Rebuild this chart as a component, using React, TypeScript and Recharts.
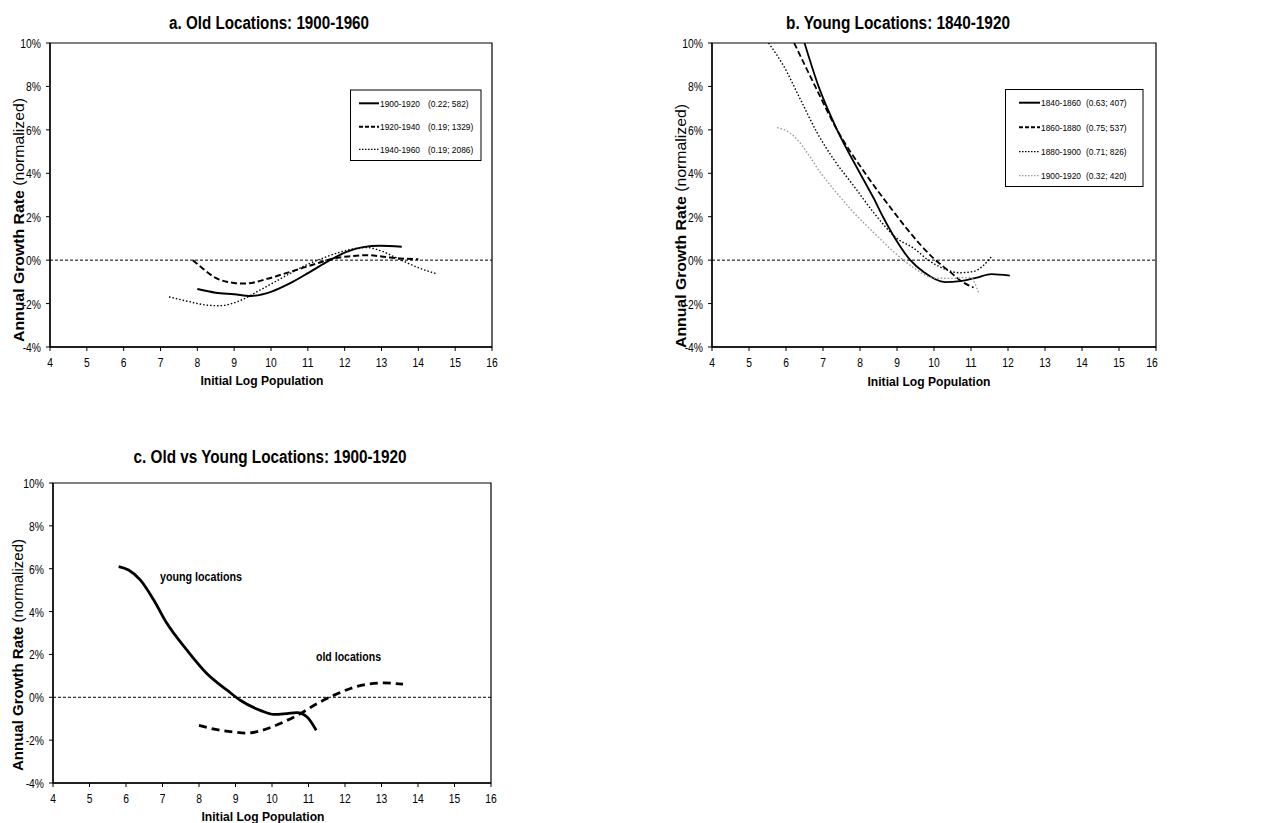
import React from "react";
import {
  LineChart,
  Line,
  XAxis,
  YAxis,
  ReferenceLine,
  ReferenceArea,
} from "recharts";

// ---------- axes ----------
const xTicks = [4, 5, 6, 7, 8, 9, 10, 11, 12, 13, 14, 15, 16];
const yTicks = [-4, -2, 0, 2, 4, 6, 8, 10];

// ---------- panel a: old locations ----------
const aSolidX = [8.0, 8.5, 9.0, 9.45, 10.0, 10.5, 11.05, 11.6, 12.05, 12.5, 12.95, 13.55];
const aSolidY = [-1.33, -1.5, -1.57, -1.65, -1.46, -1.08, -0.55, 0.0, 0.38, 0.6, 0.66, 0.62];
const aDashX = [7.88, 8.1, 8.5, 9.0, 9.3, 9.9, 10.5, 11.25, 11.7, 12.15, 12.6, 13.05, 13.5, 14.0];
const aDashY = [0.0, -0.32, -0.82, -1.05, -1.08, -0.86, -0.55, -0.15, 0.08, 0.18, 0.23, 0.16, 0.08, 0.04];
const aDotX = [7.23, 7.7, 8.25, 8.6, 9.15, 9.7, 10.35, 10.95, 11.45, 11.9, 12.35, 12.6, 12.95, 13.35, 13.6, 14.05, 14.5];
const aDotY = [-1.69, -1.88, -2.07, -2.1, -1.87, -1.38, -0.77, -0.23, 0.12, 0.38, 0.55, 0.58, 0.45, 0.15, -0.05, -0.38, -0.63];
const aLegend = ["1900-1920", "1920-1940", "1940-1960"];
const aStats = ["(0.22; 582)", "(0.19; 1329)", "(0.19; 2086)"];

// ---------- panel b: young locations ----------
const bSolidX = [6.5, 6.88, 7.38, 8.0, 8.37, 8.62, 8.95, 9.36, 9.72, 10.3, 10.7, 11.16, 11.55, 12.05];
const bSolidY = [10, 8, 6, 4, 2.85, 2, 1.0, 0, -0.55, -1.01, -0.97, -0.8, -0.64, -0.71];
const bDashX = [6.22, 6.79, 7.38, 8.14, 8.9, 9.27, 9.99, 10.44, 10.75, 11.07];
const bDashY = [10, 8, 6, 4, 2.25, 1.44, 0.08, -0.55, -0.98, -1.26];
const bDotX = [5.53, 5.94, 6.39, 6.84, 7.29, 7.83, 8.37, 9.0, 9.45, 9.85, 10.17, 10.7, 11.07, 11.34, 11.57];
const bDotY = [10, 8.93, 7.4, 5.87, 4.64, 3.42, 2.19, 1.0, 0.55, 0.0, -0.32, -0.58, -0.52, -0.24, 0.2];
const bGrayX = [5.76, 6.03, 6.3, 6.57, 6.93, 7.29, 7.83, 8.37, 8.9, 9.45, 10.0, 10.44, 10.98, 11.2];
const bGrayY = [6.1, 5.94, 5.56, 4.95, 4.03, 3.26, 2.19, 1.27, 0.4, -0.35, -0.82, -0.84, -0.8, -1.48];
const bLegend = ["1840-1860", "1860-1880", "1880-1900", "1900-1920"];
const bStats = ["(0.63; 407)", "(0.75; 537)", "(0.71; 826)", "(0.32; 420)"];

// ---------- panel c: old vs young ----------
const cYoungX = [5.8, 6.07, 6.39, 6.76, 7.12, 7.67, 8.22, 8.77, 9.13, 9.68, 10.05, 10.41, 10.68, 10.96, 11.21];
const cYoungY = [6.1, 5.94, 5.48, 4.54, 3.45, 2.2, 1.1, 0.33, -0.14, -0.61, -0.8, -0.76, -0.72, -0.92, -1.54];
const cOldX = [8.0, 8.49, 8.95, 9.32, 9.86, 10.32, 10.78, 11.23, 11.69, 12.15, 12.6, 13.06, 13.59];
const cOldY = [-1.31, -1.51, -1.62, -1.67, -1.47, -1.15, -0.76, -0.3, 0.09, 0.41, 0.61, 0.67, 0.61];

const titles = [
  "a. Old Locations: 1900-1960",
  "b. Young Locations: 1840-1920",
  "c. Old vs Young Locations: 1900-1920",
];

const pts = (xs: number[], ys: number[]) => xs.map((x, i) => ({ x, y: ys[i] }));

const FONT = "'Liberation Sans', Arial, Helvetica, sans-serif";

// approximate natural width (em) of Arial glyphs used in labels
const emWidth = (s: string) =>
  s.split("").reduce((acc, ch) => {
    if (/[0-9]/.test(ch)) return acc + 0.556;
    if (ch === "%") return acc + 0.889;
    if (ch === "-") return acc + 0.333;
    if (ch === "(" || ch === ")") return acc + 0.333;
    if (ch === "." || ch === ";" || ch === " ") return acc + 0.278;
    return acc + 0.556;
  }, 0);

const SQUEEZE = 0.86;

type SeriesSpec = {
  name: string;
  data: { x: number; y: number }[];
  stroke: string;
  width: number;
  dash?: string;
};

const XTick = (props: any) => {
  const { x, y, payload } = props;
  const s = String(payload.value);
  const fs = 12;
  return (
    <text
      x={x}
      y={y + 14}
      textAnchor="middle"
      fontSize={fs}
      fontFamily={FONT}
      fill="#000"
      textLength={emWidth(s) * fs * SQUEEZE}
      lengthAdjust="spacingAndGlyphs"
    >
      {s}
    </text>
  );
};

const YTick = (props: any) => {
  const { x, y, payload } = props;
  const s = payload.value + "%";
  const fs = 12;
  return (
    <text
      x={x - 3}
      y={y + 5}
      textAnchor="end"
      fontSize={fs}
      fontFamily={FONT}
      fill="#000"
      textLength={emWidth(s) * fs * SQUEEZE}
      lengthAdjust="spacingAndGlyphs"
    >
      {s}
    </text>
  );
};

function Panel(props: {
  left: number;
  top: number;
  margin: { top: number; right: number; bottom: number; left: number };
  series: SeriesSpec[];
}) {
  const { left, top, margin, series } = props;
  return (
    <div style={{ position: "absolute", left, top }}>
      <LineChart width={500} height={390} margin={margin}>
        <XAxis
          type="number"
          dataKey="x"
          domain={[4, 16]}
          ticks={xTicks}
          allowDataOverflow
          height={30}
          stroke="#000"
          tickSize={4}
          tick={<XTick />}
          axisLine={{ stroke: "#000", strokeWidth: 1.3 }}
          tickLine={{ stroke: "#000" }}
        />
        <YAxis
          type="number"
          dataKey="y"
          domain={[-4, 10]}
          ticks={yTicks}
          allowDataOverflow
          width={40}
          stroke="#000"
          tickSize={4}
          tick={<YTick />}
          axisLine={{ stroke: "#000", strokeWidth: 1.3 }}
          tickLine={{ stroke: "#000" }}
        />
        <ReferenceArea
          x1={4}
          x2={16}
          y1={-4}
          y2={10}
          fill="none"
          fillOpacity={0}
          stroke="#000"
          strokeWidth={1.2}
          ifOverflow="visible"
        />
        <ReferenceLine y={0} stroke="#000" strokeWidth={1} strokeDasharray="3 2" />
        {series.map((s) => (
          <Line
            key={s.name}
            data={s.data}
            dataKey="y"
            name={s.name}
            type="monotone"
            stroke={s.stroke}
            strokeWidth={s.width}
            strokeDasharray={s.dash}
            dot={false}
            activeDot={false}
            isAnimationActive={false}
          />
        ))}
      </LineChart>
    </div>
  );
}

const aSeries: SeriesSpec[] = [
  { name: aLegend[0], data: pts(aSolidX, aSolidY), stroke: "#000", width: 2 },
  { name: aLegend[1], data: pts(aDashX, aDashY), stroke: "#000", width: 2, dash: "6 3" },
  { name: aLegend[2], data: pts(aDotX, aDotY), stroke: "#000", width: 1.4, dash: "1.5 2" },
];
const bSeries: SeriesSpec[] = [
  { name: bLegend[0], data: pts(bSolidX, bSolidY), stroke: "#000", width: 1.8 },
  { name: bLegend[1], data: pts(bDashX, bDashY), stroke: "#000", width: 1.8, dash: "6 3" },
  { name: bLegend[2], data: pts(bDotX, bDotY), stroke: "#000", width: 1.4, dash: "1.5 2" },
  { name: bLegend[3], data: pts(bGrayX, bGrayY), stroke: "#999", width: 1.4, dash: "1.5 2" },
];
const cSeries: SeriesSpec[] = [
  { name: "young locations", data: pts(cYoungX, cYoungY), stroke: "#000", width: 2.8 },
  { name: "old locations", data: pts(cOldX, cOldY), stroke: "#000", width: 2.8, dash: "8 5" },
];

const legendStyles = [
  { stroke: "#000", width: 2 },
  { stroke: "#000", width: 2, dash: "4 2" },
  { stroke: "#000", width: 1.3, dash: "1.5 1.5" },
  { stroke: "#999", width: 1.3, dash: "1.5 1.5" },
];

function LegendBox(props: {
  x: number;
  y: number;
  w: number;
  h: number;
  rows: number[];
  labels: string[];
  stats: string[];
  lineX: [number, number];
  textX: number;
  statX: number;
}) {
  const { x, y, w, h, rows, labels, stats, lineX, textX, statX } = props;
  const fs = 9;
  return (
    <g>
      <rect x={x} y={y} width={w} height={h} fill="#fff" stroke="#000" strokeWidth={1} />
      {labels.map((l, i) => (
        <g key={l}>
          <line
            x1={lineX[0]}
            x2={lineX[1]}
            y1={rows[i]}
            y2={rows[i]}
            stroke={legendStyles[i].stroke}
            strokeWidth={legendStyles[i].width}
            strokeDasharray={legendStyles[i].dash}
          />
          <text
            x={textX}
            y={rows[i] + 3.3}
            fontSize={fs}
            fontFamily={FONT}
            textLength={40}
            lengthAdjust="spacingAndGlyphs"
          >
            {l}
          </text>
          <text
            x={statX}
            y={rows[i] + 3.3}
            fontSize={fs}
            fontFamily={FONT}
            textLength={emWidth(stats[i]) * 10.5 * 0.8}
            lengthAdjust="spacingAndGlyphs"
          >
            {stats[i]}
          </text>
        </g>
      ))}
    </g>
  );
}

function YLabel(props: { x: number; y: number; len: number }) {
  return (
    <text
      transform={`translate(${props.x},${props.y}) rotate(-90)`}
      textAnchor="middle"
      fontSize={15}
      fontFamily={FONT}
      textLength={props.len}
      lengthAdjust="spacingAndGlyphs"
    >
      <tspan fontWeight="bold">Annual Growth Rate</tspan>
      <tspan> (normalized)</tspan>
    </text>
  );
}

function XLabel(props: { x: number; y: number }) {
  return (
    <text
      x={props.x}
      y={props.y}
      textAnchor="middle"
      fontSize={13.5}
      fontWeight="bold"
      fontFamily={FONT}
      textLength={123}
      lengthAdjust="spacingAndGlyphs"
    >
      Initial Log Population
    </text>
  );
}

function Title(props: { x: number; y: number; w: number; text: string }) {
  return (
    <text
      x={props.x}
      y={props.y}
      textAnchor="middle"
      fontSize={17.5}
      fontWeight="bold"
      fontFamily={FONT}
      textLength={props.w}
      lengthAdjust="spacingAndGlyphs"
    >
      {props.text}
    </text>
  );
}

export default function App() {
  return (
    <div
      style={{
        position: "absolute",
        left: 0,
        top: 0,
        width: 1273,
        height: 823,
        background: "#fff",
        fontFamily: FONT,
      }}
    >
      <Panel left={0} top={0} margin={{ top: 43, right: 8, bottom: 13, left: 10 }} series={aSeries} />
      <Panel left={660} top={0} margin={{ top: 43, right: 4, bottom: 13, left: 12 }} series={bSeries} />
      <Panel left={0} top={440} margin={{ top: 43, right: 9, bottom: 17, left: 13 }} series={cSeries} />
      <svg
        width={1273}
        height={823}
        style={{ position: "absolute", left: 0, top: 0, pointerEvents: "none" }}
      >
        <Title x={269} y={29} w={200} text={titles[0]} />
        <Title x={898} y={29} w={224} text={titles[1]} />
        <Title x={270} y={463} w={273} text={titles[2]} />

        <YLabel x={24} y={220} len={244} />
        <YLabel x={686} y={226} len={244} />
        <YLabel x={23} y={655} len={232} />

        <XLabel x={262} y={385} />
        <XLabel x={929} y={386} />
        <XLabel x={263} y={821} />

        <LegendBox
          x={350.5}
          y={90}
          w={130.5}
          h={70.5}
          rows={[103.3, 126.7, 149.3]}
          labels={aLegend}
          stats={aStats}
          lineX={[359, 379]}
          textX={380}
          statX={428}
        />
        <LegendBox
          x={1005.5}
          y={89.5}
          w={137.5}
          h={97}
          rows={[102.7, 127.3, 151.7, 175.7]}
          labels={bLegend}
          stats={bStats}
          lineX={[1019, 1040]}
          textX={1041}
          statX={1086}
        />

        <text x={160} y={581} fontSize={12.5} fontWeight="bold" fontFamily={FONT} textLength={82} lengthAdjust="spacingAndGlyphs">
          young locations
        </text>
        <text x={316} y={661} fontSize={12.5} fontWeight="bold" fontFamily={FONT} textLength={65} lengthAdjust="spacingAndGlyphs">
          old locations
        </text>
      </svg>
    </div>
  );
}
